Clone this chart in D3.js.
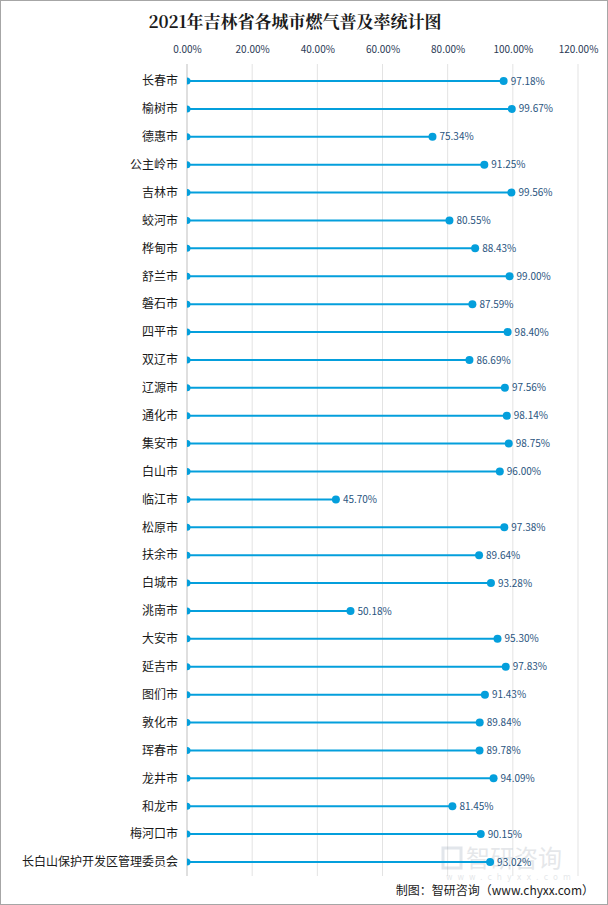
<!DOCTYPE html>
<html>
<head>
<meta charset="utf-8">
<script src="https://cdn.jsdelivr.net/npm/d3@7"></script>
<style>
  body { margin: 0; background: #fff; }
  svg { display: block; }
</style>
</head>
<body>
<svg class="chart" width="608" height="905"></svg>
<script>
var cities = ["长春市", "榆树市", "德惠市", "公主岭市", "吉林市", "蛟河市", "桦甸市", "舒兰市", "磐石市", "四平市",
  "双辽市", "辽源市", "通化市", "集安市", "白山市", "临江市", "松原市", "扶余市", "白城市", "洮南市",
  "大安市", "延吉市", "图们市", "敦化市", "珲春市", "龙井市", "和龙市", "梅河口市", "长白山保护开发区管理委员会"];
var rates = [97.18, 99.67, 75.34, 91.25, 99.56, 80.55, 88.43, 99.00, 87.59, 98.40,
  86.69, 97.56, 98.14, 98.75, 96.00, 45.70, 97.38, 89.64, 93.28, 50.18,
  95.30, 97.83, 91.43, 89.84, 89.78, 94.09, 81.45, 90.15, 93.02];
var ticks = [0, 20, 40, 60, 80, 100, 120];

var svg = d3.select(".chart"),
  width = +svg.attr("width"),
  height = +svg.attr("height");

var blue = "#049fdc";

// outer border
svg.append("rect")
  .attr("x", 0.5).attr("y", 0.5)
  .attr("width", width - 1).attr("height", height - 1)
  .attr("fill", "#fff").attr("stroke", "#a6a6a6");

svg.append("text")
  .attr("x", 295).attr("y", 28)
  .attr("text-anchor", "middle")
  .attr("font-family", "'Noto Serif CJK SC', 'Noto Sans CJK SC', serif")
  .attr("font-weight", "bold")
  .attr("font-size", 17)
  .attr("fill", "#1a1a1a")
  .text("2021年吉林省各城市燃气普及率统计图");

var x = d3.scaleLinear().domain([0, 120]).range([187, 578]);
var y = d3.scalePoint().domain(cities).range([81, 862]);

// gridlines
svg.append("g").selectAll("line").data(ticks).join("line")
  .attr("x1", d => x(d)).attr("x2", d => x(d))
  .attr("y1", 64).attr("y2", 876)
  .attr("stroke", d => d === 0 ? "#bfbfbf" : "#e3e3e3")
  .attr("stroke-width", 1);

// top axis labels
var axis = svg.append("g")
  .attr("transform", "translate(0,56)")
  .call(d3.axisTop(x).tickValues(ticks).tickSize(0).tickFormat(d => d.toFixed(2) + "%"));
axis.select(".domain").remove();
axis.selectAll("text")
  .attr("font-family", "'Noto Sans CJK SC', 'Open Sans', sans-serif")
  .attr("font-size", 10)
  .attr("fill", "#2b3a55");

// watermark
var wm = svg.append("g").attr("opacity", 0.25);
wm.append("rect").attr("x", 443).attr("y", 848).attr("width", 18).attr("height", 20)
  .attr("fill", "none").attr("stroke", "#8fa0b3").attr("stroke-width", 3);
wm.append("text").attr("x", 466).attr("y", 867)
  .attr("font-family", "'Noto Sans CJK SC', sans-serif").attr("font-size", 24)
  .attr("fill", "#9aa3ad").text("智研咨询");
wm.append("text").attr("x", 446).attr("y", 880)
  .attr("font-family", "'DejaVu Sans', sans-serif").attr("font-size", 8)
  .attr("letter-spacing", 5)
  .attr("fill", "#9aa3ad").text("www.chyxx.com");

// category labels
svg.append("g").selectAll("text").data(cities).join("text")
  .attr("x", 178).attr("y", d => y(d))
  .attr("dy", "0.36em")
  .attr("text-anchor", "end")
  .attr("font-family", "'Noto Sans CJK SC', sans-serif")
  .attr("font-size", 12)
  .attr("fill", "#1a1a1a")
  .text(d => d);

var rows = svg.append("g").selectAll("g").data(cities).join("g");

rows.append("line")
  .attr("x1", x(0)).attr("x2", (d, i) => x(rates[i]))
  .attr("y1", d => y(d)).attr("y2", d => y(d))
  .attr("stroke", blue).attr("stroke-width", 2);

// half dot at zero
rows.append("path")
  .attr("d", d => "M" + x(0) + "," + (y(d) - 3.5) + "A3.5,3.5 0 0 1 " + x(0) + "," + (y(d) + 3.5) + "Z")
  .attr("fill", blue);

rows.append("circle")
  .attr("cx", (d, i) => x(rates[i])).attr("cy", d => y(d))
  .attr("r", 4)
  .attr("fill", blue);

rows.append("text")
  .attr("x", (d, i) => x(rates[i]) + 7).attr("y", d => y(d))
  .attr("dy", "0.36em")
  .attr("font-family", "'Noto Sans CJK SC', 'Open Sans', sans-serif")
  .attr("font-size", 10)
  .attr("fill", "#2a5580")
  .text((d, i) => rates[i].toFixed(2) + "%");

svg.append("text")
  .attr("x", 594).attr("y", 895)
  .attr("text-anchor", "end")
  .attr("font-family", "'Noto Sans CJK SC', sans-serif")
  .attr("font-size", 12)
  .attr("fill", "#1a1a1a")
  .text("制图：智研咨询（www.chyxx.com）");
</script>
</body>
</html>
